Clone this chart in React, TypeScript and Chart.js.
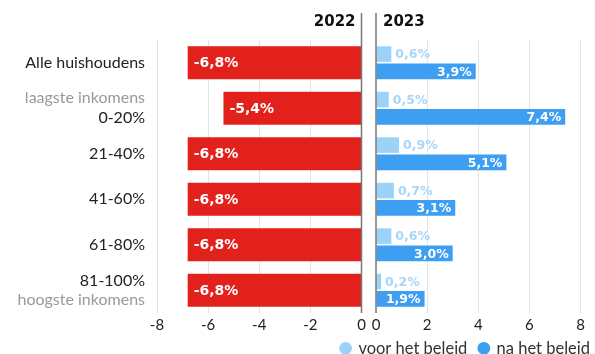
import { useEffect, useRef } from 'react';
import { Chart, registerables } from 'chart.js';

Chart.register(...registerables);

// ---- data ----
const categories: (string | string[])[] = [
  'Alle huishoudens',
  ['', '0-20%'],
  '21-40%',
  '41-60%',
  '61-80%',
  ['81-100%', ''],
];
const subLabelsAbove = ['', 'laagste inkomens', '', '', '', ''];
const subLabelsBelow = ['', '', '', '', '', 'hoogste inkomens'];
const header2022 = '2022';
const header2023 = '2023';
const values2022 = [-6.8, -5.4, -6.8, -6.8, -6.8, -6.8];
const voorHetBeleid = [0.6, 0.5, 0.9, 0.7, 0.6, 0.2];
const naHetBeleid = [3.9, 7.4, 5.1, 3.1, 3.0, 1.9];
const seriesNames = ['voor het beleid', 'na het beleid'];
const leftTicks = [-8, -6, -4, -2, 0];
const rightTicks = [0, 2, 4, 6, 8];

// ---- styles ----
const RED = '#e2211c';
const BLUE = '#3d9ef2';
const LIGHT = '#9dd2f8';
const LIGHT_TEXT = '#a6d6f8';
const GRID = '#e4e4e4';
const ZERO = '#777777';
const W = 595;
const H = 354;
const TOP = 40;
const AXIS_H = 24;
const LEGEND_H = 17;
const LABEL_FONT = 'Lato';
const NUM_FONT = '"DejaVu Sans"';

const fmt = (v: number) => v.toFixed(1).replace('.', ',') + '%';

const leftPlugin = {
  id: 'leftDecor',
  afterDatasetsDraw(chart: any) {
    const ctx = chart.ctx;
    const meta = chart.getDatasetMeta(0);
    ctx.save();
    ctx.font = `bold 14px ${NUM_FONT}`;
    ctx.fillStyle = '#ffffff';
    ctx.textAlign = 'left';
    ctx.textBaseline = 'middle';
    meta.data.forEach((el: any, i: number) => {
      ctx.fillText(fmt(values2022[i]), el.x + 6, el.y + 1);
    });
    ctx.restore();
  },
  afterDraw(chart: any) {
    const ctx = chart.ctx;
    const x0 = chart.scales.x.getPixelForValue(0);
    const ys = chart.scales.y;
    const area = chart.chartArea;
    ctx.save();
    ctx.strokeStyle = ZERO;
    ctx.lineWidth = 1.5;
    ctx.beginPath();
    ctx.moveTo(x0, 13);
    ctx.lineTo(x0, area.bottom);
    ctx.stroke();
    ctx.font = `bold 15px ${NUM_FONT}`;
    ctx.fillStyle = '#111111';
    ctx.textAlign = 'right';
    ctx.textBaseline = 'middle';
    ctx.fillText(header2022, x0 - 6, 22);
    ctx.font = `16px ${LABEL_FONT}`;
    ctx.fillStyle = '#999999';
    subLabelsAbove.forEach((t, i) => {
      if (t) ctx.fillText(t, area.left - 12, ys.getPixelForValue(i) - 10);
    });
    subLabelsBelow.forEach((t, i) => {
      if (t) ctx.fillText(t, area.left - 12, ys.getPixelForValue(i) + 10);
    });
    ctx.restore();
  },
};

const rightPlugin = {
  id: 'rightDecor',
  afterLayout(chart: any) {
    if (chart.legend) {
      // extend the legend box upward so its row sits just under the tick labels
      chart.legend.top -= 9;
      chart.legend.height += 9;
    }
  },
  afterDatasetsDraw(chart: any) {
    const ctx = chart.ctx;
    ctx.save();
    ctx.font = `bold 12.5px ${NUM_FONT}`;
    ctx.textBaseline = 'middle';
    chart.getDatasetMeta(0).data.forEach((el: any, i: number) => {
      ctx.fillStyle = LIGHT_TEXT;
      ctx.textAlign = 'left';
      ctx.fillText(fmt(voorHetBeleid[i]), el.x + 4, el.y + 1);
    });
    chart.getDatasetMeta(1).data.forEach((el: any, i: number) => {
      ctx.fillStyle = '#ffffff';
      ctx.textAlign = 'right';
      ctx.fillText(fmt(naHetBeleid[i]), el.x - 4, el.y + 1);
    });
    ctx.restore();
  },
  afterDraw(chart: any) {
    const ctx = chart.ctx;
    const x0 = chart.scales.x.getPixelForValue(0);
    const area = chart.chartArea;
    ctx.save();
    ctx.strokeStyle = ZERO;
    ctx.lineWidth = 1.5;
    ctx.beginPath();
    ctx.moveTo(x0, 13);
    ctx.lineTo(x0, area.bottom);
    ctx.stroke();
    ctx.font = `bold 15px ${NUM_FONT}`;
    ctx.fillStyle = '#111111';
    ctx.textAlign = 'left';
    ctx.textBaseline = 'middle';
    ctx.fillText(header2023, x0 + 7, 22);
    ctx.restore();
  },
};

export default function App() {
  const leftRef = useRef<HTMLCanvasElement>(null);
  const rightRef = useRef<HTMLCanvasElement>(null);

  useEffect(() => {
    Chart.defaults.font.family = LABEL_FONT;
    const left = new Chart(leftRef.current!, {
      type: 'bar',
      data: {
        labels: categories as any,
        datasets: [
          {
            label: header2022,
            data: values2022,
            backgroundColor: RED,
            borderWidth: 0,
            categoryPercentage: 0.75,
            barPercentage: 0.97,
          },
        ],
      },
      options: {
        indexAxis: 'y',
        responsive: false,
        animation: false,
        events: [],
        layout: { padding: { top: TOP, right: W - 361.5, bottom: LEGEND_H, left: 0 } },
        plugins: { legend: { display: false }, tooltip: { enabled: false } },
        scales: {
          x: {
            min: -8,
            max: 0,
            afterFit: (s: any) => { s.height = AXIS_H; },
            afterBuildTicks: (s: any) => { s.ticks = leftTicks.map((v) => ({ value: v })); },
            grid: {
              color: (c: any) => (c.tick && c.tick.value === 0 ? 'rgba(0,0,0,0)' : GRID),
              drawTicks: false,
            },
            border: { display: false },
            ticks: { color: '#222', font: { size: 15 }, padding: 3, callback: (v: any) => String(v) },
          },
          y: {
            afterFit: (s: any) => { s.width = 157; },
            grid: { display: false, drawTicks: false },
            border: { display: false },
            ticks: { color: '#222', font: { size: 16 }, padding: 12 },
          },
        },
      },
      plugins: [leftPlugin],
    });

    const right = new Chart(rightRef.current!, {
      type: 'bar',
      data: {
        labels: categories as any,
        datasets: [
          {
            label: seriesNames[0],
            data: voorHetBeleid,
            backgroundColor: LIGHT,
            borderWidth: 0,
            categoryPercentage: 0.76,
            barPercentage: 0.9,
          },
          {
            label: seriesNames[1],
            data: naHetBeleid,
            backgroundColor: BLUE,
            borderWidth: 0,
            categoryPercentage: 0.76,
            barPercentage: 0.9,
          },
        ],
      },
      options: {
        indexAxis: 'y',
        responsive: false,
        animation: false,
        events: [],
        layout: { padding: { top: TOP, right: 0, bottom: 0, left: 0 } },
        plugins: {
          tooltip: { enabled: false },
          legend: {
            position: 'bottom',
            align: 'end',
            maxHeight: LEGEND_H,
            labels: {
              usePointStyle: true,
              pointStyle: 'circle',
              boxWidth: 9,
              boxHeight: 9,
              padding: 12,
              color: '#333',
              font: { size: 16.5 },
            },
          },
        },
        scales: {
          x: {
            min: 0,
            max: 8.84,
            afterFit: (s: any) => { s.height = AXIS_H; },
            afterBuildTicks: (s: any) => { s.ticks = rightTicks.map((v) => ({ value: v })); },
            grid: {
              color: (c: any) => (c.tick && c.tick.value === 0 ? 'rgba(0,0,0,0)' : GRID),
              drawTicks: false,
            },
            border: { display: false },
            ticks: { color: '#222', font: { size: 15 }, padding: 3, callback: (v: any) => String(v) },
          },
          y: {
            afterFit: (s: any) => { s.width = 376; },
            grid: { display: false, drawTicks: false },
            border: { display: false },
            ticks: { display: false },
          },
        },
      },
      plugins: [rightPlugin],
    });

    return () => {
      left.destroy();
      right.destroy();
    };
  }, []);

  return (
    <div
      style={{
        position: 'fixed',
        left: 0,
        top: 0,
        width: W,
        height: H,
        overflow: 'hidden',
        background: '#ffffff',
      }}
    >
      <canvas ref={leftRef} width={W} height={H} style={{ position: 'absolute', left: 0, top: 0 }} />
      <canvas ref={rightRef} width={602} height={H} style={{ position: 'absolute', left: 0, top: 0 }} />
    </div>
  );
}
